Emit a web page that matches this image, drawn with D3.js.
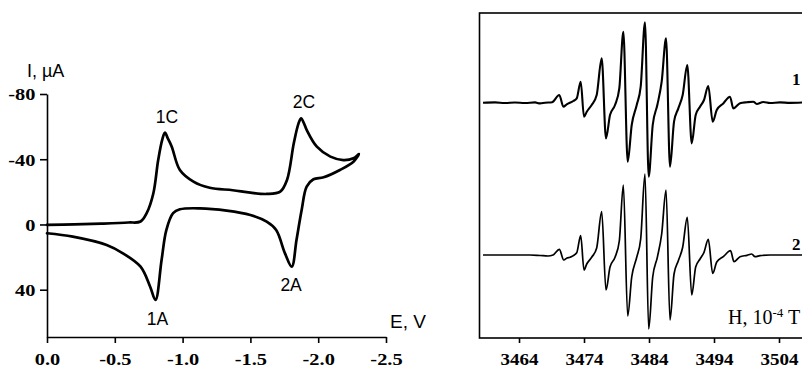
<!DOCTYPE html>
<html><head><meta charset="utf-8">
<script src="https://cdn.jsdelivr.net/npm/d3@7"></script>
<style>body{margin:0;background:#fff} svg{display:block}</style>
</head><body>
<svg id="c" width="802" height="368"></svg>
<script>
// ---------- Cyclic voltammogram (scan order: forward then reverse) ----------
const cvE = [0, -0.2, -0.4, -0.6, -0.69, -0.735, -0.784, -0.82, -0.85, -0.87, -0.89, -0.92, -0.98, -1.08, -1.2, -1.37, -1.5, -1.62, -1.72, -1.77, -1.82, -1.855, -1.874, -1.895, -1.915, -1.99, -2.09, -2.185, -2.26, -2.30,
             -2.26, -2.16, -2.04, -1.965, -1.915, -1.878, -1.84, -1.805, -1.755, -1.69, -1.62, -1.5, -1.325, -1.128, -0.98, -0.93, -0.88, -0.845, -0.80, -0.76, -0.69, -0.56, -0.44, -0.19, 0];
const cvI = [0.3, 0.0, -0.5, -1.2, -1.8, -6.9, -19, -39.5, -52, -56.3, -53, -47.7, -33.4, -26.3, -22.5, -21, -19.5, -18.7, -20.1, -27.3, -49.8, -62, -65.1, -62, -58, -47.7, -41.6, -39.5, -40.6, -43.2,
             -38.5, -33.4, -28.9, -27.7, -23.2, -8.9, 9.5, 25.9, 17.7, 3.4, -1.7, -5.8, -8.5, -9.9, -9.3, -6.9, 3.4, 21.8, 46.3, 38, 25.9, 17.7, 12.6, 7.5, 5.4];
const eTicks = [0, -0.5, -1.0, -1.5, -2.0, -2.5];
const iTicks = [-80, -40, 0, 40];
const peakNames = ["1C", "2C", "2A", "1A"];
const peakLabelE = [-0.885, -1.895, -1.80, -0.815];
const peakLabelI = [-62.2, -71.4, 40.8, 61.6];

// ---------- ESR spectra (field H in 1e-4 T, derivative amplitude a.u.) ----------
const esrH1 = [3458.46, 3460.31, 3461.85, 3463.38, 3464.92, 3466.46, 3467.23, 3468.0, 3469.08, 3470.20, 3470.82, 3471.34, 3472.35, 3472.88, 3473.49, 3474.0, 3474.42, 3475.18, 3475.95, 3476.72, 3477.38, 3478.0, 3478.77, 3479.43, 3480.05, 3480.72, 3481.34, 3482.11, 3482.72, 3483.38, 3483.95, 3484.57, 3485.28, 3485.95, 3486.62, 3487.23, 3487.85, 3488.51, 3489.18, 3489.89, 3490.57, 3491.18, 3491.85, 3492.46, 3493.12, 3493.80, 3494.42, 3495.43, 3496.46, 3496.97, 3498.0, 3499.08, 3500.05, 3500.57, 3501.58, 3502.62, 3504.15, 3505.69, 3507.69];
const esrA1 = [0, 0.3, -0.3, 0.2, -0.3, 0.3, -0.7, 0, 0.5, 7.7, -4, -1.7, 1.7, 4.3, 21, -14, -9, -2.3, 7.7, 44.3, -35.7, -12.3, -2.3, 14.3, 71, -59, -22.3, -2.3, 16, 80.3, -74, -22.3, -2.3, 21, 64.3, -64, -19, -5.7, 7.7, 37.7, -40.7, -12.3, -4, 2.7, 16.7, -19, -7.3, -0.7, 6, -5.7, -0.5, 0.5, 1, -1.3, 0.7, -0.3, 0.3, -0.2, 0.2];
const esrH2 = [3458.46, 3465.69, 3467.23, 3468.46, 3469.23, 3470.20, 3470.89, 3471.38, 3471.85, 3472.88, 3473.49, 3474.0, 3474.42, 3475.18, 3475.95, 3476.72, 3477.38, 3478.0, 3478.77, 3479.43, 3480.05, 3480.72, 3481.34, 3482.11, 3482.72, 3483.38, 3483.95, 3484.57, 3485.28, 3485.95, 3486.62, 3487.23, 3487.85, 3488.51, 3489.18, 3489.89, 3490.57, 3491.18, 3491.85, 3492.46, 3493.12, 3493.80, 3494.42, 3495.43, 3496.54, 3497.08, 3498.0, 3499.08, 3499.80, 3500.31, 3501.08, 3502.62, 3507.69];
const esrA2 = [0, 0, -0.5, -1, 0, 5.7, -5, -3, -2.3, 2.3, 19.5, -15, -9, -2.3, 7, 43.3, -35, -12, -2.3, 14, 70, -61, -22, -2.3, 16, 81, -74, -22, -2.3, 21, 65, -65, -19, -5.7, 7.7, 37.7, -40, -12, -4, 2.7, 15.7, -18.3, -7, -1.7, 4.3, -6.7, -1.7, -0.3, 1, -1.7, -0.7, 0, 0];
const hTicks = [3464, 3474, 3484, 3494, 3504];
const spectrumNames = ["1", "2"];

// ---------- drawing ----------
const svg = d3.select("#c");
const serif = "'Liberation Serif','Times New Roman',serif";
const sans = "'Liberation Sans',Arial,sans-serif";
const hyphen = f => d => f(d).replace("\u2212", "-");

// style + horizontally widen tick labels (the original uses wide bold serif digits)
function styleTicks(g, anchorX, baselineY, k) {
  g.selectAll(".tick text")
    .attr("font-family", serif).attr("font-weight", "bold").attr("font-size", 17)
    .attr("fill", "#000").attr("dy", null)
    .attr("x", anchorX / k).attr("y", baselineY)
    .attr("transform", `scale(${k},1)`);
}

// Left panel
const xE = d3.scaleLinear().domain([0, -2.5]).range([47, 386]);
const yI = d3.scaleLinear().domain([-80, 69]).range([94, 337]);

const gx = svg.append("g").attr("transform", "translate(0,337)")
  .call(d3.axisBottom(xE).tickValues(eTicks).tickSize(6).tickSizeOuter(0).tickFormat(hyphen(d3.format(".1f"))));
const gy = svg.append("g").attr("transform", "translate(47,0)")
  .call(d3.axisLeft(yI).tickValues(iTicks).tickSize(7).tickSizeOuter(0).tickFormat(hyphen(d3.format("d"))));
[gx, gy].forEach(g => {
  g.select(".domain").attr("stroke", "#000").attr("stroke-width", 1.6);
  g.selectAll(".tick line").attr("stroke", "#000").attr("stroke-width", 1.6);
});
styleTicks(gx, 0, 28.5, 1.2);
styleTicks(gy, -11.5, 5.8, 1.2);

const cvPts = cvE.map((e, i) => [e, cvI[i]]);
svg.append("path").datum(cvPts)
  .attr("d", d3.line().x(d => xE(d[0])).y(d => yI(d[1])).curve(d3.curveCatmullRom.alpha(0.5)))
  .attr("fill", "none").attr("stroke", "#000").attr("stroke-width", 2.7)
  .attr("stroke-linejoin", "round").attr("stroke-linecap", "round");

svg.selectAll("text.peak").data(peakNames).join("text").attr("class", "peak")
  .attr("x", (d, i) => xE(peakLabelE[i])).attr("y", (d, i) => yI(peakLabelI[i]))
  .attr("text-anchor", "middle").attr("font-family", sans).attr("font-size", 17.5)
  .text(d => d);

svg.append("text").attr("x", 27).attr("y", 77).attr("font-family", sans).attr("font-size", 18)
  .text("I, \u00b5A");
svg.append("text").attr("x", 390).attr("y", 328).attr("font-family", sans).attr("font-size", 19)
  .text("E, V");

// Right panel
const xH = d3.scaleLinear().domain([3457.92, 3510]).range([479.5, 818]);
const yA1 = d3.scaleLinear().domain([-100, 100]).range([202.7, 2.7]);
const yA2 = d3.scaleLinear().domain([-100, 100]).range([355, 155]);

svg.append("rect").attr("x", 479.5).attr("y", 13).attr("width", 340).attr("height", 325)
  .attr("fill", "none").attr("stroke", "#000").attr("stroke-width", 1.6);
const gh = svg.append("g").attr("transform", "translate(0,338)")
  .call(d3.axisBottom(xH).tickValues(hTicks).tickSize(5).tickSizeOuter(0).tickFormat(d3.format("d")));
gh.select(".domain").remove();
gh.selectAll(".tick line").attr("stroke", "#000").attr("stroke-width", 1.6);
styleTicks(gh, 0, 27.5, 1.12);

const s1 = esrH1.map((h, i) => [h, esrA1[i]]);
const s2 = esrH2.map((h, i) => [h, esrA2[i]]);
svg.append("path").datum(s1)
  .attr("d", d3.line().x(d => xH(d[0])).y(d => yA1(d[1])).curve(d3.curveMonotoneX))
  .attr("fill", "none").attr("stroke", "#000").attr("stroke-width", 2.1).attr("stroke-linejoin", "round");
svg.append("path").datum(s2)
  .attr("d", d3.line().x(d => xH(d[0])).y(d => yA2(d[1])).curve(d3.curveMonotoneX))
  .attr("fill", "none").attr("stroke", "#000").attr("stroke-width", 1.7).attr("stroke-linejoin", "round");

svg.selectAll("text.sn").data(spectrumNames).join("text").attr("class", "sn")
  .attr("x", 792).attr("y", (d, i) => i === 0 ? yA1(17.7) : yA2(5))
  .attr("font-family", serif).attr("font-weight", "bold").attr("font-size", 17)
  .text(d => d);

const ht = svg.append("text").attr("x", 728).attr("y", 324).attr("font-family", serif).attr("font-size", 20);
ht.append("tspan").text("H, 10");
ht.append("tspan").attr("font-size", 13).attr("dy", -7).text("-4");
ht.append("tspan").attr("dy", 7).text(" T");
</script>
</body></html>
